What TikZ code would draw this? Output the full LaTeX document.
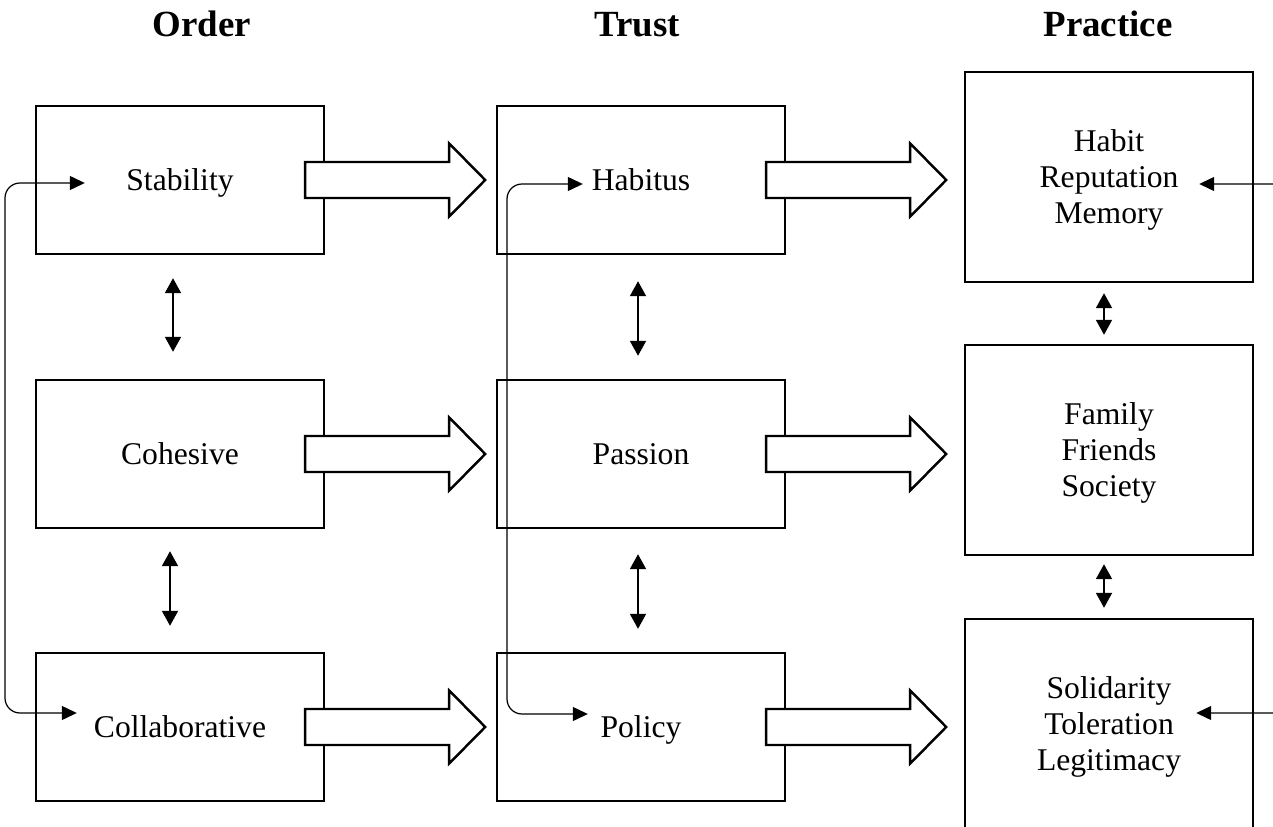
\documentclass[tikz,border=0pt]{standalone}
\usepackage{fontspec}
\setmainfont{Liberation Serif}
\usetikzlibrary{arrows.meta}

\begin{document}
\begin{tikzpicture}[x=0.02cm, y=-0.02cm,
  box/.style={draw, line width=1.4pt, minimum width=5.76cm, minimum height=2.96cm,
    inner sep=0pt, align=center, text depth=0pt, font=\fontsize{18}{20.5}\selectfont},
  tallbox/.style={box, minimum height=4.2cm, text depth=-0.1cm},
  title/.style={anchor=base, font=\fontsize{21}{25}\selectfont\bfseries},
  flow/.style={draw, line width=1.4pt, fill=white, line join=miter},
  link/.style={line width=1.1pt,
    {Triangle[length=0.3cm, width=0.32cm]}-{Triangle[length=0.3cm, width=0.32cm]}},
  feedback/.style={line width=0.7pt, rounded corners=0.3cm,
    {Triangle[length=0.3cm, width=0.28cm]}-{Triangle[length=0.3cm, width=0.28cm]}}]
  \useasboundingbox (0,0) rectangle (1273,827);
  \clip (0,0) rectangle (1273,827);

  % Column headings
  \node[title] (tOrder) at (202,37) {Order};
  \node[title] (tTrust) at (637,37) {Trust};
  \node[title] (tPractice) at (1108,37) {Practice};

  % Order column
  \node[box] (stab) at (180,180) {Stability};
  \node[box] (coh) at (180,454) {Cohesive};
  \node[box] (coll) at (180,727) {Collaborative};

  % Trust column
  \node[box] (hab) at (641,180) {Habitus};
  \node[box] (pas) at (641,454) {Passion};
  \node[box] (pol) at (641,727) {Policy};

  % Practice column
  \node[tallbox] (hrm) at (1109,177) {Habit\\Reputation\\Memory};
  \node[tallbox] (ffs) at (1109,450) {Family\\Friends\\Society};
  \node[tallbox] (stl) at (1109,724) {Solidarity\\Toleration\\Legitimacy};

  % Block arrows from one column to the next
  \foreach \a in {stab, coh, coll, hab, pas, pol}
    \draw[flow] ([xshift=-0.4cm]\a.east) ++(0,-18) -- ++(144,0) -- ++(0,-18.5)
      -- ++(36,36.5) -- ++(-36,36.5) -- ++(0,-18.5) -- ++(-144,0) -- cycle;

  % Two-way arrows inside each column
  \draw[link, shorten <=0.46cm, shorten >=0.54cm] ([xshift=-0.14cm]stab.south) -- ([xshift=-0.14cm]coh.north);
  \draw[link, shorten <=0.44cm, shorten >=0.52cm] ([xshift=-0.2cm]coh.south) -- ([xshift=-0.2cm]coll.north);
  \draw[link, shorten <=0.52cm, shorten >=0.46cm] ([xshift=-0.06cm]hab.south) -- ([xshift=-0.06cm]pas.north);
  \draw[link, shorten <=0.5cm, shorten >=0.46cm] ([xshift=-0.06cm]pas.south) -- ([xshift=-0.06cm]pol.north);
  \draw[link, shorten <=0.2cm, shorten >=0.18cm] ([xshift=-0.1cm]hrm.south) -- ([xshift=-0.1cm]ffs.north);
  \draw[link, shorten <=0.16cm, shorten >=0.2cm] ([xshift=-0.1cm]ffs.south) -- ([xshift=-0.1cm]stl.north);

  % Feedback lines between first and last row
  \coordinate (inStab) at ([shift={(50,3)}]stab.west);
  \coordinate (inColl) at ([shift={(42,-14)}]coll.west);
  \coordinate (leftRail) at (5,450);
  \draw[feedback] (inStab) -| (leftRail) |- (inColl);

  \coordinate (inHab) at ([shift={(87,4)}]hab.west);
  \coordinate (inPol) at ([shift={(92,-13)}]pol.west);
  \coordinate (midRail) at (507,450);
  \draw[feedback] (inHab) -| (midRail) |- (inPol);

  \coordinate (inHrm) at ([shift={(-55,7)}]hrm.east);
  \coordinate (inStl) at ([shift={(-58,-11)}]stl.east);
  \coordinate (rightRail) at (1290,450);
  \draw[feedback] (inHrm) -| (rightRail) |- (inStl);
\end{tikzpicture}
\end{document}
